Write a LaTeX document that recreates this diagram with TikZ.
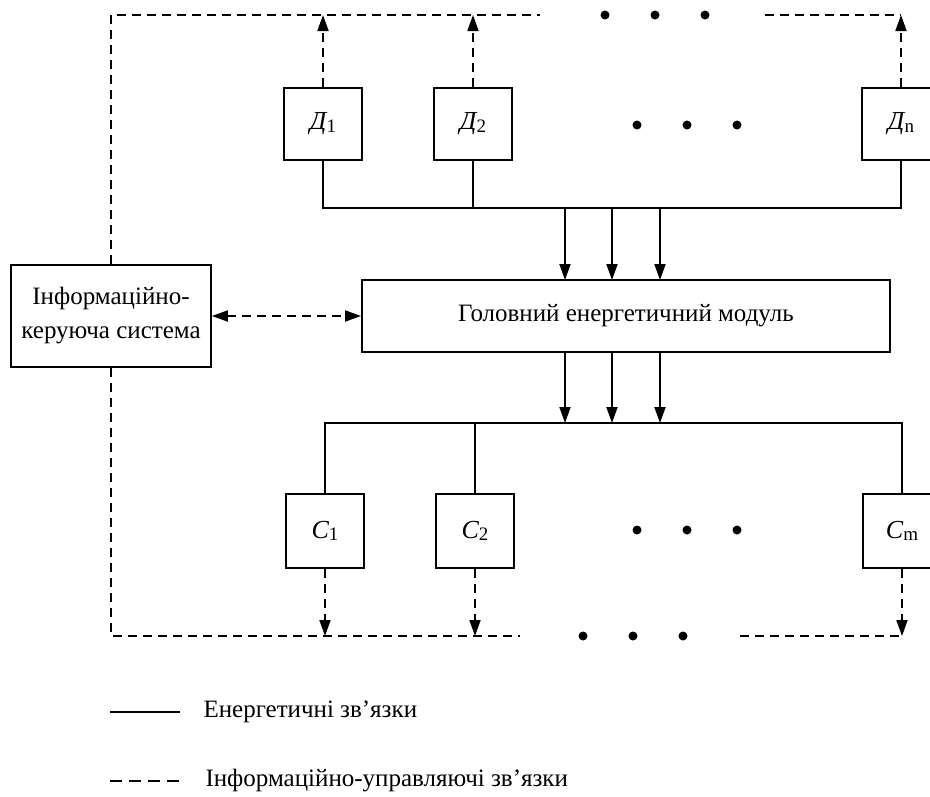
\documentclass[tikz,border=0pt]{standalone}
\usepackage{fontspec}
\setmainfont{Liberation Serif}
\usetikzlibrary{arrows.meta}
\newcommand{\lbl}[2]{{\fontsize{26}{26}\selectfont\itshape #1}\raisebox{-0.2ex}{\fontsize{19}{19}\selectfont #2}}
\begin{document}
\begin{tikzpicture}[x=1pt,y=-1pt,
  box/.style={draw,line width=1.8pt,inner sep=0pt},
  sq/.style={box,minimum width=78pt,minimum height=72pt},
  en/.style={line width=1.8pt},
  info/.style={line width=1.8pt,dash pattern=on 9pt off 6pt},
  tip/.style={-{Triangle[length=16pt,width=11pt]}},
  dotc/.style={circle,fill=black,inner sep=0pt,minimum size=9pt},
  every node/.style={font=\fontsize{25}{34}\selectfont}]
\useasboundingbox (0,0) rectangle (930,796);
% nodes
\node[sq] (d1) at (323,124) {\lbl{Д}{1}};
\node[sq] (d2) at (473,124) {\lbl{Д}{2}};
\node[sq] (dn) at (901,124) {\lbl{Д}{n}};
\node[box,minimum width=528pt,minimum height=72pt] (main) at (626,316) {Головний енергетичний модуль};
\node[box,minimum width=200pt,minimum height=102pt,align=center] (iks) at (111,316) {Інформаційно-\\керуюча система};
\node[sq,minimum height=74pt] (c1) at (325,531) {\lbl{C}{1}};
\node[sq,minimum height=74pt] (c2) at (475,531) {\lbl{C}{2}};
\node[sq,minimum height=74pt] (cm) at (902,531) {\lbl{C}{m}};
% dots
\node[dotc] (t1) at (605,15) {};
\node[dotc] (t2) at (655,15) {};
\node[dotc] (t3) at (705,15) {};
\node[dotc] (m1) at (637,125) {};
\node[dotc] (m2) at (687,125) {};
\node[dotc] (m3) at (737,125) {};
\node[dotc] (l1) at (637,530) {};
\node[dotc] (l2) at (687,530) {};
\node[dotc] (l3) at (737,530) {};
\node[dotc] (b1) at (583,636) {};
\node[dotc] (b2) at (633,636) {};
\node[dotc] (b3) at (683,636) {};
% coordinates
\coordinate (tl) at (111,15);
\coordinate (tmid) at (540,15);
\coordinate (tr0) at (765,15);
\coordinate (bl) at (111,636);
\coordinate (bmid) at (520,636);
\coordinate (br0) at (740,636);
\coordinate (bus1) at (0,208);
\coordinate (bus2) at (0,423);
% top info line
\draw[info] (iks.north) -- (tl) -- (tmid);
\draw[info] (tr0) -- (dn.north |- tl);
\draw[info,tip] (d1.north) -- (d1.north |- tl);
\draw[info,tip] (d2.north) -- (d2.north |- tl);
\draw[info,tip] (dn.north) -- (dn.north |- tl);
% bottom info line
\draw[info] (iks.south) -- (bl) -- (bmid);
\draw[info] (br0) -- (cm.south |- bl);
\draw[info,tip] (c1.south) -- (c1.south |- bl);
\draw[info,tip] (c2.south) -- (c2.south |- bl);
\draw[info,tip] (cm.south) -- (cm.south |- bl);
% iks <-> main
\draw[info,{Triangle[length=16pt,width=11pt]}-{Triangle[length=16pt,width=11pt]}] (iks.east) -- (main.west);
% energy top bus
\draw[en] (d1.south) -- (d1.south |- bus1) -- (dn.south |- bus1) -- (dn.south);
\draw[en] (d2.south) -- (d2.south |- bus1);
\foreach \x in {565,612,660}{
  \draw[en,tip] (\x,208) -- (\x,280);
  \draw[en,tip] (\x,352) -- (\x,423);
}
% energy bottom bus
\draw[en] (c1.north) -- (c1.north |- bus2) -- (cm.north |- bus2) -- (cm.north);
\draw[en] (c2.north) -- (c2.north |- bus2);
% legend
\coordinate (la1) at (110,712);
\coordinate (la2) at (180,712);
\coordinate (lb1) at (110,781);
\coordinate (lb2) at (180,781);
\draw[en] (la1) -- (la2);
\draw[info,dash pattern=on 12pt off 7pt] (lb1) -- (lb2);
\node[anchor=west] (leg1) at (200,712) {Енергетичні зв’язки};
\node[anchor=west] (leg2) at (202,781) {Інформаційно-управляючі зв’язки};
\end{tikzpicture}
\end{document}
